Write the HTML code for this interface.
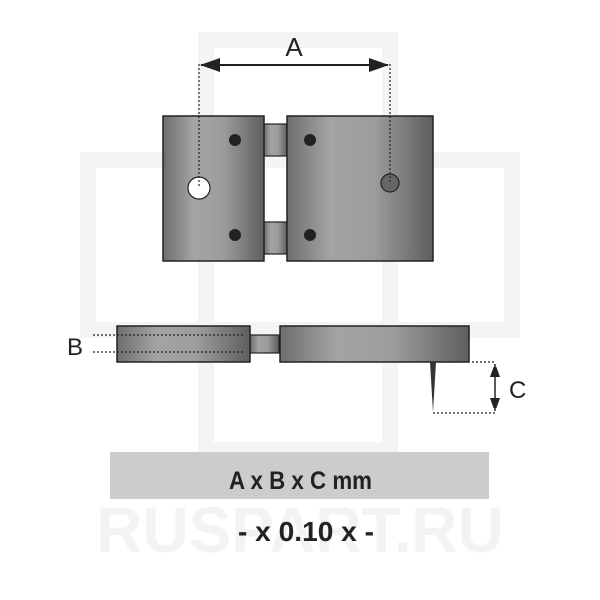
<!DOCTYPE html>
<html><head><style>body{margin:0;background:#fff}svg{display:block}</style></head><body>
<svg width="600" height="600" viewBox="0 0 600 600" xmlns="http://www.w3.org/2000/svg">
<defs>
<linearGradient id="g" x1="0" x2="1" y1="0" y2="0">
<stop offset="0" stop-color="#6e6e6e"/><stop offset="0.3" stop-color="#a4a4a4"/><stop offset="0.6" stop-color="#9c9c9c"/><stop offset="1" stop-color="#5e5e5e"/>
</linearGradient>
<marker id="ah" markerWidth="20" markerHeight="14" refX="19" refY="7" orient="auto-start-reverse" markerUnits="userSpaceOnUse">
<path d="M0,0 L20,7 L0,14 Z" fill="#222"/></marker>
<marker id="ah2" markerWidth="10" markerHeight="14" refX="13" refY="5" orient="auto-start-reverse" markerUnits="userSpaceOnUse">
<path d="M0,0 L14,5 L0,10 Z" fill="#222"/></marker>
</defs>
<g fill="none" stroke="#f4f4f4" stroke-width="16">
<rect x="206" y="40" width="184" height="410"/>
<rect x="88" y="160" width="424" height="170"/>
</g>
<text x="300" y="552" font-family="Liberation Sans, sans-serif" font-weight="bold" font-size="64" fill="#f3f3f3" text-anchor="middle">RUSPART.RU</text>
<rect x="264" y="124" width="23" height="32" fill="url(#g)" stroke="#222" stroke-width="1.2"/>
<rect x="264" y="222" width="23" height="32" fill="url(#g)" stroke="#222" stroke-width="1.2"/>
<rect x="163" y="116" width="101" height="145" fill="url(#g)" stroke="#222" stroke-width="1.5"/>
<rect x="287" y="116" width="146" height="145" fill="url(#g)" stroke="#222" stroke-width="1.5"/>
<circle cx="235" cy="140" r="6" fill="#222"/><circle cx="235" cy="235" r="6" fill="#222"/>
<circle cx="310" cy="140" r="6" fill="#222"/><circle cx="310" cy="235" r="6" fill="#222"/>
<circle cx="199" cy="188" r="11" fill="#fff" stroke="#222" stroke-width="1.2"/>
<circle cx="390" cy="183" r="9" fill="#666" stroke="#222" stroke-width="1.2"/>
<g stroke="#222" stroke-width="1.2" stroke-dasharray="2,2">
<line x1="199" y1="64" x2="199" y2="188"/><line x1="390" y1="64" x2="390" y2="183"/>
</g>
<line x1="201" y1="65" x2="388" y2="65" stroke="#222" stroke-width="2" marker-start="url(#ah)" marker-end="url(#ah)"/>
<text x="294" y="56" font-family="Liberation Sans, sans-serif" font-size="26" fill="#222" text-anchor="middle">A</text>
<rect x="250" y="335" width="29" height="18" fill="url(#g)" stroke="#222" stroke-width="1.2"/>
<rect x="117" y="326" width="133" height="36" fill="url(#g)" stroke="#222" stroke-width="1.5"/>
<rect x="280" y="326" width="189" height="36" fill="url(#g)" stroke="#222" stroke-width="1.5"/>
<path d="M430,362 L436,362 L433,412 Z" fill="#333"/>
<g stroke="#222" stroke-width="1.2" stroke-dasharray="2,2">
<line x1="93" y1="335" x2="245" y2="335"/><line x1="93" y1="352" x2="245" y2="352"/>
<line x1="472" y1="362" x2="496" y2="362"/><line x1="433" y1="413" x2="496" y2="413"/>
</g>
<line x1="495" y1="364" x2="495" y2="411" stroke="#222" stroke-width="1.5" marker-start="url(#ah2)" marker-end="url(#ah2)"/>
<text x="67" y="355" font-family="Liberation Sans, sans-serif" font-size="24" fill="#222">B</text>
<text x="509" y="398" font-family="Liberation Sans, sans-serif" font-size="24" fill="#222">C</text>
<rect x="110" y="452" width="379" height="47" fill="#cccccc"/>
<text x="229" y="489" textLength="143" lengthAdjust="spacingAndGlyphs" font-family="Liberation Sans, sans-serif" font-weight="bold" font-size="25" fill="#222">A x B x C mm</text>
<text x="238" y="541" textLength="136" lengthAdjust="spacingAndGlyphs" font-family="Liberation Sans, sans-serif" font-weight="bold" font-size="28" fill="#222">- x 0.10 x -</text>
</svg>
</body></html>
